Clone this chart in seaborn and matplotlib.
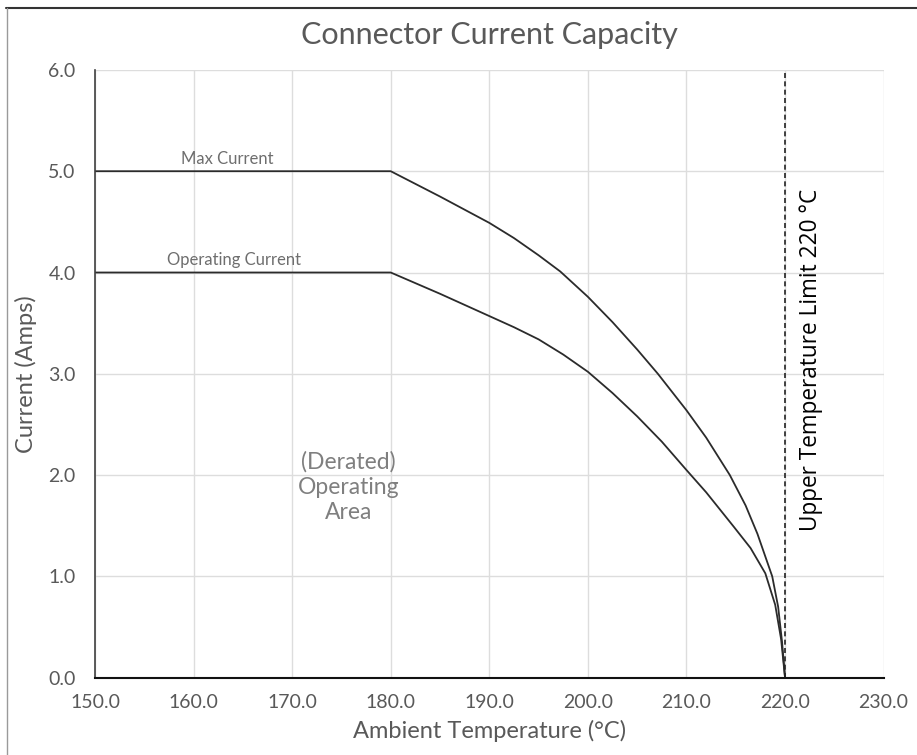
import pandas as pd
import numpy as np
import matplotlib.pyplot as plt
import seaborn as sns
from matplotlib.lines import Line2D

# values
max_temp = [150, 180, 185, 190, 192.5, 195, 197.2, 200, 202.5, 205, 207.1, 210, 212, 214.4, 216, 217.2, 218.7, 219.3, 219.7, 220]
max_current = [5.0, 5.0, 4.75, 4.49, 4.34, 4.17, 4.01, 3.76, 3.51, 3.24, 3.0, 2.64, 2.37, 2.0, 1.7, 1.42, 1.0, 0.7, 0.35, 0.0]

op_temp = [150, 180, 185, 190, 192.5, 195, 197.5, 200, 202.5, 205, 207.5, 210, 212, 214.8, 216.5, 218, 219, 219.6, 220]
op_current = [4.0, 4.0, 3.79, 3.57, 3.46, 3.34, 3.19, 3.02, 2.81, 2.58, 2.33, 2.05, 1.83, 1.49, 1.28, 1.03, 0.72, 0.38, 0.0]

x_ticks = [150, 160, 170, 180, 190, 200, 210, 220, 230]
y_ticks = [0, 1, 2, 3, 4, 5, 6]
limit_temp = 220

b = pd.concat([
    pd.DataFrame({'temp': max_temp, 'current': max_current, 'series': 'Max Current'}),
    pd.DataFrame({'temp': op_temp, 'current': op_current, 'series': 'Operating Current'}),
])

sns.set_theme(style="whitegrid")
plt.rcParams['font.family'] = ['Lato', 'DejaVu Sans']

fig = plt.figure(figsize=(9.17, 7.55), dpi=100)
ax = fig.add_axes([0.1036, 0.1024, 0.86, 0.805])

sns.lineplot(data=b, x='temp', y='current', units='series', estimator=None,
             color='#2b2b2b', linewidth=1.3, sort=False, ax=ax)

ax.axvline(limit_temp, color='#222222', linestyle=(0, (3, 2)), linewidth=1.2)

ax.set_xlim(150, 230)
ax.set_ylim(0, 6)
ax.set_xticks(x_ticks)
ax.set_yticks(y_ticks)
ax.set_xticklabels([f"{t:.1f}" for t in x_ticks], fontsize=14, color='#595959')
ax.set_yticklabels([f"{t:.1f}" for t in y_ticks], fontsize=14, color='#595959')
ax.tick_params(axis='x', pad=12, length=0)
ax.tick_params(axis='y', pad=14, length=0)

ax.grid(True, color='#dddddd', linewidth=1)
for s in ['top', 'right']:
    ax.spines[s].set_visible(False)
ax.spines['left'].set_color('#404040')
ax.spines['bottom'].set_color('#111111')
ax.spines['left'].set_linewidth(1.2)
ax.spines['bottom'].set_linewidth(1.5)

ax.set_xlabel('Ambient Temperature (°C)', fontsize=17, color='#595959', labelpad=6)
ax.set_ylabel('Current (Amps)', fontsize=17, color='#595959', labelpad=8)
ax.set_title('Connector Current Capacity', fontsize=22, color='#595959', pad=19)

ax.text(163.4, 5.04, 'Max Current', fontsize=12, color='#6e6e6e', ha='center', va='bottom')
ax.text(164.1, 4.04, 'Operating Current', fontsize=12, color='#6e6e6e', ha='center', va='bottom')
ax.text(175.7, 1.88, '(Derated)\nOperating\nArea', fontsize=16.5, color='#7f7f7f',
        ha='center', va='center', linespacing=1.25)
ax.text(222.6, 3.14, 'Upper Temperature Limit 220 °C', fontsize=16.3, color='black',
        rotation=90, ha='center', va='center', family=['Open Sans', 'DejaVu Sans'])

# frame around the picture
fig.add_artist(Line2D([0.006, 1.0], [1 - 7.5 / 755, 1 - 7.5 / 755], transform=fig.transFigure,
                      color='#333333', linewidth=1.5))
fig.add_artist(Line2D([6.5 / 917, 6.5 / 917], [0, 1 - 7.5 / 755], transform=fig.transFigure,
                      color='#9a9a9a', linewidth=1.0))

fig.savefig('out.png', dpi=100)
